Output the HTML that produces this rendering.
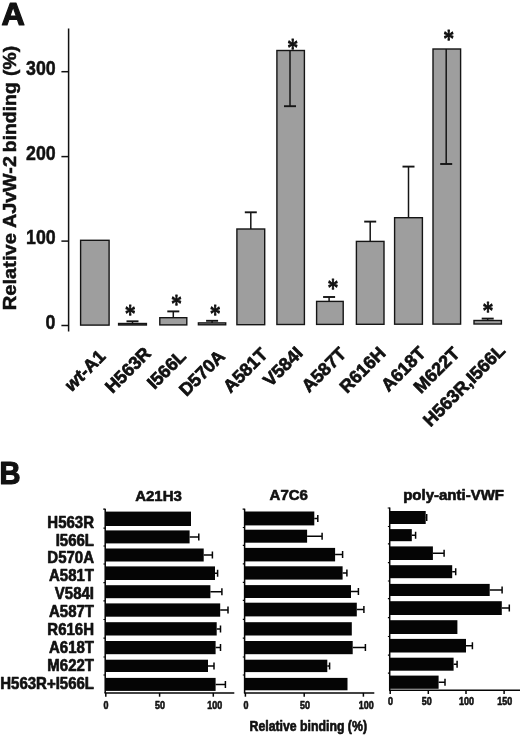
<!DOCTYPE html>
<html lang="en"><head><meta charset="utf-8"><title>Figure</title>
<style>html,body{margin:0;padding:0;background:#fff}body{width:520px;height:736px;overflow:hidden}svg{display:block}text{font-family:"Liberation Sans", Arial, Helvetica, sans-serif;font-weight:bold;fill:#111;stroke:#111;stroke-width:.5px;stroke-linejoin:round}.s{stroke-width:.65px}.t{stroke-width:.6px}.st{stroke:none}</style></head><body>
<svg width="520" height="736" viewBox="0 0 520 736">
<rect width="520" height="736" fill="#fff"/>
<text transform="translate(1.5,24.5) scale(1.06,1)" font-size="30.5" style="stroke-width:1.2px">A</text>
<g stroke="#111" stroke-width="1.5" fill="none">
<line x1="68.6" y1="28.5" x2="68.6" y2="331.5"/>
<line x1="61.4" y1="325.5" x2="68.6" y2="325.5"/>
<line x1="61.4" y1="241.1" x2="68.6" y2="241.1"/>
<line x1="61.4" y1="156.6" x2="68.6" y2="156.6"/>
<line x1="61.4" y1="71.7" x2="68.6" y2="71.7"/>
</g>
<text transform="translate(55.3,328.7) scale(.875,1)" font-size="20.3" text-anchor="end">0</text>
<text transform="translate(55.7,244.3) scale(.875,1)" font-size="20.3" text-anchor="end">100</text>
<text transform="translate(55.7,159.5) scale(.875,1)" font-size="20.3" text-anchor="end">200</text>
<text transform="translate(55.7,74.6) scale(.875,1)" font-size="20.3" text-anchor="end">300</text>
<text transform="translate(15.8,310.3) rotate(-90)" font-size="19" textLength="77.3" lengthAdjust="spacingAndGlyphs">Relative</text>
<text transform="translate(15.8,228.1) rotate(-90)" font-size="19" textLength="72.0" lengthAdjust="spacingAndGlyphs">AJvW-2</text>
<text transform="translate(15.8,152.2) rotate(-90)" font-size="19" textLength="70.0" lengthAdjust="spacingAndGlyphs">binding</text>
<text transform="translate(15.8,75.9) rotate(-90)" font-size="19" textLength="30.0" lengthAdjust="spacingAndGlyphs">(%)</text>
<rect x="80.6" y="240.3" width="28.5" height="84.8" fill="#9e9e9e" stroke="#151515" stroke-width="1.4"/>
<rect x="118.6" y="323.5" width="27.8" height="1.5" fill="#9e9e9e" stroke="#151515" stroke-width="1.4"/>
<path d="M132.5 323.5V321.3" stroke="#151515" stroke-width="1.5" fill="none"/><path d="M126.5 321.3H138.5" stroke="#151515" stroke-width="1.9" fill="none"/>
<text transform="translate(130.2,309.8) scale(.84,1.04)" x="0" y="12.9" font-size="26" text-anchor="middle" style="font-family:'Liberation Serif',serif;font-weight:normal;stroke-width:1px">*</text>
<rect x="159.8" y="317.7" width="27.0" height="7.2" fill="#9e9e9e" stroke="#151515" stroke-width="1.4"/>
<path d="M173.3 317.7V311.4" stroke="#151515" stroke-width="1.5" fill="none"/><path d="M167.3 311.4H179.3" stroke="#151515" stroke-width="1.9" fill="none"/>
<text transform="translate(176.5,299.4) scale(.84,1.04)" x="0" y="12.9" font-size="26" text-anchor="middle" style="font-family:'Liberation Serif',serif;font-weight:normal;stroke-width:1px">*</text>
<rect x="198.4" y="322.9" width="27.3" height="1.9" fill="#9e9e9e" stroke="#151515" stroke-width="1.4"/>
<path d="M212.1 322.9V320.8" stroke="#151515" stroke-width="1.5" fill="none"/><path d="M206.1 320.8H218.1" stroke="#151515" stroke-width="1.9" fill="none"/>
<text transform="translate(215.2,309.1) scale(.84,1.04)" x="0" y="12.9" font-size="26" text-anchor="middle" style="font-family:'Liberation Serif',serif;font-weight:normal;stroke-width:1px">*</text>
<rect x="236.9" y="229.0" width="27.8" height="95.7" fill="#9e9e9e" stroke="#151515" stroke-width="1.4"/>
<path d="M250.8 229.0V212.3" stroke="#151515" stroke-width="1.5" fill="none"/><path d="M244.8 212.3H256.8" stroke="#151515" stroke-width="1.9" fill="none"/>
<rect x="276.9" y="50.5" width="27.5" height="274.0" fill="#9e9e9e" stroke="#151515" stroke-width="1.4"/>
<path d="M290.0 50.5V106.2" stroke="#151515" stroke-width="1.5" fill="none"/><path d="M284.0 106.2H296.0" stroke="#151515" stroke-width="1.9" fill="none"/>
<text transform="translate(292.6,43.5) scale(.84,1.04)" x="0" y="12.9" font-size="26" text-anchor="middle" style="font-family:'Liberation Serif',serif;font-weight:normal;stroke-width:1px">*</text>
<rect x="316.6" y="301.4" width="26.6" height="23.0" fill="#9e9e9e" stroke="#151515" stroke-width="1.4"/>
<path d="M329.1 301.4V297.0" stroke="#151515" stroke-width="1.5" fill="none"/><path d="M323.1 297.0H335.1" stroke="#151515" stroke-width="1.9" fill="none"/>
<text transform="translate(333.0,283.2) scale(.84,1.04)" x="0" y="12.9" font-size="26" text-anchor="middle" style="font-family:'Liberation Serif',serif;font-weight:normal;stroke-width:1px">*</text>
<rect x="356.4" y="241.4" width="27.6" height="82.9" fill="#9e9e9e" stroke="#151515" stroke-width="1.4"/>
<path d="M370.2 241.4V221.6" stroke="#151515" stroke-width="1.5" fill="none"/><path d="M364.2 221.6H376.2" stroke="#151515" stroke-width="1.9" fill="none"/>
<rect x="394.6" y="217.7" width="27.8" height="106.5" fill="#9e9e9e" stroke="#151515" stroke-width="1.4"/>
<path d="M408.5 217.7V166.6" stroke="#151515" stroke-width="1.5" fill="none"/><path d="M402.5 166.6H414.5" stroke="#151515" stroke-width="1.9" fill="none"/>
<rect x="433.0" y="49.0" width="27.6" height="275.1" fill="#9e9e9e" stroke="#151515" stroke-width="1.4"/>
<path d="M446.2 49.0V164.0" stroke="#151515" stroke-width="1.5" fill="none"/><path d="M440.2 164.0H452.2" stroke="#151515" stroke-width="1.9" fill="none"/>
<text transform="translate(448.6,34.6) scale(.84,1.04)" x="0" y="12.9" font-size="26" text-anchor="middle" style="font-family:'Liberation Serif',serif;font-weight:normal;stroke-width:1px">*</text>
<rect x="474.0" y="320.5" width="27.4" height="3.5" fill="#9e9e9e" stroke="#151515" stroke-width="1.4"/>
<path d="M487.7 320.5V318.6" stroke="#151515" stroke-width="1.5" fill="none"/><path d="M481.7 318.6H493.7" stroke="#151515" stroke-width="1.9" fill="none"/>
<text transform="translate(488.0,306.4) scale(.84,1.04)" x="0" y="12.9" font-size="26" text-anchor="middle" style="font-family:'Liberation Serif',serif;font-weight:normal;stroke-width:1px">*</text>
<text transform="translate(106.5,357.5) rotate(-45)" font-size="18" text-anchor="end" style="stroke-width:.7px"><tspan font-style="italic">wt</tspan>-A1</text>
<text transform="translate(152.0,354.5) rotate(-45)" font-size="18" text-anchor="end" style="stroke-width:.7px">H563R</text>
<text transform="translate(187.0,357.5) rotate(-45)" font-size="18" text-anchor="end" style="stroke-width:.7px">I566L</text>
<text transform="translate(226.0,357.5) rotate(-45)" font-size="18" text-anchor="end" style="stroke-width:.7px">D570A</text>
<text transform="translate(268.7,355.5) rotate(-45)" font-size="18" text-anchor="end" style="stroke-width:.7px">A581T</text>
<text transform="translate(303.8,354.3) rotate(-45)" font-size="18" text-anchor="end" style="stroke-width:.7px">V584I</text>
<text transform="translate(347.3,355.0) rotate(-45)" font-size="18" text-anchor="end" style="stroke-width:.7px">A587T</text>
<text transform="translate(386.6,354.3) rotate(-45)" font-size="18" text-anchor="end" style="stroke-width:.7px">R616H</text>
<text transform="translate(426.7,354.2) rotate(-45)" font-size="18" text-anchor="end" style="stroke-width:.7px">A618T</text>
<text transform="translate(460.7,354.6) rotate(-45)" font-size="18" text-anchor="end" style="stroke-width:.7px">M622T</text>
<text transform="translate(506.2,351.7) rotate(-45)" font-size="18" text-anchor="end" style="stroke-width:.7px">H563R,I566L</text>
<text transform="translate(-0.4,483.9) scale(.93,1)" font-size="31.3" style="stroke-width:1.2px">B</text>
<text class="s" transform="translate(94,527.5) scale(.955,1)" font-size="15.7" text-anchor="end">H563R</text>
<text class="s" transform="translate(94,545.5) scale(.955,1)" font-size="15.7" text-anchor="end">I566L</text>
<text class="s" transform="translate(94,563.1) scale(.955,1)" font-size="15.7" text-anchor="end">D570A</text>
<text class="s" transform="translate(94,580.8) scale(.955,1)" font-size="15.7" text-anchor="end">A581T</text>
<text class="s" transform="translate(94,598.8) scale(.955,1)" font-size="15.7" text-anchor="end">V584I</text>
<text class="s" transform="translate(94,617.0) scale(.955,1)" font-size="15.7" text-anchor="end">A587T</text>
<text class="s" transform="translate(94,635.0) scale(.955,1)" font-size="15.7" text-anchor="end">R616H</text>
<text class="s" transform="translate(94,653.0) scale(.955,1)" font-size="15.7" text-anchor="end">A618T</text>
<text class="s" transform="translate(94,670.8) scale(.955,1)" font-size="15.7" text-anchor="end">M622T</text>
<text class="s" transform="translate(94,689.2) scale(.955,1)" font-size="15.7" text-anchor="end">H563R+I566L</text>
<text class="s" x="158.5" y="501.0" font-size="15" text-anchor="middle">A21H3</text>
<rect x="105.2" y="511.6" width="85.8" height="14.4" fill="#050505"/>
<rect x="105.2" y="530.4" width="84.4" height="13.0" fill="#050505"/>
<path d="M189.6 536.9H198.8M198.8 533.4V540.4" stroke="#050505" stroke-width="1.5" fill="none"/>
<rect x="105.2" y="548.5" width="98.5" height="13.0" fill="#050505"/>
<path d="M203.7 555.0H212.4M212.4 551.5V558.5" stroke="#050505" stroke-width="1.5" fill="none"/>
<rect x="105.2" y="566.4" width="109.8" height="13.6" fill="#050505"/>
<path d="M215.0 573.2H217.6M217.6 569.7V576.7" stroke="#050505" stroke-width="1.5" fill="none"/>
<rect x="105.2" y="585.2" width="105.2" height="13.0" fill="#050505"/>
<path d="M210.4 591.7H221.9M221.9 588.2V595.2" stroke="#050505" stroke-width="1.5" fill="none"/>
<rect x="105.2" y="603.4" width="115.0" height="13.3" fill="#050505"/>
<path d="M220.2 610.0H228.0M228.0 606.5V613.5" stroke="#050505" stroke-width="1.5" fill="none"/>
<rect x="105.2" y="622.2" width="111.5" height="13.3" fill="#050505"/>
<path d="M216.7 628.9H220.5M220.5 625.4V632.4" stroke="#050505" stroke-width="1.5" fill="none"/>
<rect x="105.2" y="641.0" width="110.4" height="13.2" fill="#050505"/>
<path d="M215.6 647.6H220.5M220.5 644.1V651.1" stroke="#050505" stroke-width="1.5" fill="none"/>
<rect x="105.2" y="659.7" width="102.8" height="12.3" fill="#050505"/>
<path d="M208.0 665.9H214.0M214.0 662.4V669.4" stroke="#050505" stroke-width="1.5" fill="none"/>
<rect x="105.2" y="677.9" width="110.4" height="13.0" fill="#050505"/>
<path d="M215.6 684.4H225.4M225.4 680.9V687.9" stroke="#050505" stroke-width="1.5" fill="none"/>
<g stroke="#050505" stroke-width="1.5" fill="none">
<line x1="105.2" y1="508.7" x2="105.2" y2="692.9"/>
<line x1="104.5" y1="692.9" x2="234.3" y2="692.9"/>
<line x1="105.8" y1="692.9" x2="105.8" y2="696.7"/>
<line x1="159.6" y1="692.9" x2="159.6" y2="696.7"/>
<line x1="213.3" y1="692.9" x2="213.3" y2="696.7"/>
<path d="M105.2 509.2h-2M105.2 528.2h-1.8M105.2 546.0h-1.8M105.2 564.0h-1.8M105.2 582.6h-1.8M105.2 600.8h-1.8M105.2 619.5h-1.8M105.2 638.2h-1.8M105.2 657.0h-1.8M105.2 675.0h-1.8" stroke-width="1.2"/>
</g>
<text class="t" transform="translate(106.0,709.2) scale(.86,1)" font-size="10.4" text-anchor="middle">0</text>
<text class="t" transform="translate(160.0,709.2) scale(.86,1)" font-size="10.4" text-anchor="middle">50</text>
<text class="t" transform="translate(214.7,709.2) scale(.86,1)" font-size="10.4" text-anchor="middle">100</text>
<text class="s" x="288.8" y="500.2" font-size="15" text-anchor="middle">A7C6</text>
<rect x="244.6" y="511.5" width="69.7" height="13.9" fill="#050505"/>
<path d="M314.3 518.5H317.8M317.8 515.0V522.0" stroke="#050505" stroke-width="1.5" fill="none"/>
<rect x="244.6" y="529.7" width="62.5" height="13.0" fill="#050505"/>
<path d="M307.1 536.2H322.1M322.1 532.7V539.7" stroke="#050505" stroke-width="1.5" fill="none"/>
<rect x="244.6" y="547.9" width="90.5" height="13.5" fill="#050505"/>
<path d="M335.1 554.6H342.6M342.6 551.1V558.1" stroke="#050505" stroke-width="1.5" fill="none"/>
<rect x="244.6" y="566.3" width="98.0" height="13.3" fill="#050505"/>
<path d="M342.6 573.0H346.9M346.9 569.5V576.5" stroke="#050505" stroke-width="1.5" fill="none"/>
<rect x="244.6" y="585.1" width="106.4" height="12.9" fill="#050505"/>
<path d="M351.0 591.5H358.4M358.4 588.0V595.0" stroke="#050505" stroke-width="1.5" fill="none"/>
<rect x="244.6" y="602.7" width="112.2" height="13.7" fill="#050505"/>
<path d="M356.8 609.5H363.9M363.9 606.0V613.0" stroke="#050505" stroke-width="1.5" fill="none"/>
<rect x="244.6" y="622.2" width="107.2" height="13.3" fill="#050505"/>
<rect x="244.6" y="641.0" width="108.1" height="13.2" fill="#050505"/>
<path d="M352.7 647.6H365.4M365.4 644.1V651.1" stroke="#050505" stroke-width="1.5" fill="none"/>
<rect x="244.6" y="659.7" width="82.7" height="12.4" fill="#050505"/>
<path d="M327.3 665.9H329.6M329.6 662.4V669.4" stroke="#050505" stroke-width="1.5" fill="none"/>
<rect x="244.6" y="677.9" width="102.9" height="12.4" fill="#050505"/>
<g stroke="#050505" stroke-width="1.5" fill="none">
<line x1="244.6" y1="508.7" x2="244.6" y2="692.9"/>
<line x1="243.9" y1="692.9" x2="374.3" y2="692.9"/>
<line x1="245.4" y1="692.9" x2="245.4" y2="696.7"/>
<line x1="304.2" y1="692.9" x2="304.2" y2="696.7"/>
<line x1="363.4" y1="692.9" x2="363.4" y2="696.7"/>
<path d="M244.6 509.2h-2M244.6 527.5h-1.8M244.6 545.3h-1.8M244.6 563.8h-1.8M244.6 582.4h-1.8M244.6 600.4h-1.8M244.6 619.3h-1.8M244.6 638.2h-1.8M244.6 657.0h-1.8M244.6 675.0h-1.8" stroke-width="1.2"/>
</g>
<text class="t" transform="translate(246.0,709.2) scale(.86,1)" font-size="10.4" text-anchor="middle">0</text>
<text class="t" transform="translate(305.0,709.2) scale(.86,1)" font-size="10.4" text-anchor="middle">50</text>
<text class="t" transform="translate(366.2,709.2) scale(.86,1)" font-size="10.4" text-anchor="middle">100</text>
<text class="s" x="453.6" y="500.0" font-size="15" text-anchor="middle">poly-anti-VWF</text>
<rect x="389.7" y="511.0" width="36.0" height="13.0" fill="#050505"/>
<path d="M425.7 517.5H426.7M426.7 514.0V521.0" stroke="#050505" stroke-width="1.5" fill="none"/>
<rect x="389.7" y="529.1" width="22.1" height="12.1" fill="#050505"/>
<path d="M411.8 535.2H415.6M415.6 531.7V538.7" stroke="#050505" stroke-width="1.5" fill="none"/>
<rect x="389.7" y="546.4" width="43.2" height="13.6" fill="#050505"/>
<path d="M432.9 553.2H444.1M444.1 549.7V556.7" stroke="#050505" stroke-width="1.5" fill="none"/>
<rect x="389.7" y="565.2" width="62.5" height="13.0" fill="#050505"/>
<path d="M452.2 571.7H455.7M455.7 568.2V575.2" stroke="#050505" stroke-width="1.5" fill="none"/>
<rect x="389.7" y="583.9" width="100.0" height="12.1" fill="#050505"/>
<path d="M489.7 590.0H502.1M502.1 586.5V593.5" stroke="#050505" stroke-width="1.5" fill="none"/>
<rect x="389.7" y="601.2" width="112.1" height="13.8" fill="#050505"/>
<path d="M501.8 608.1H509.3M509.3 604.6V611.6" stroke="#050505" stroke-width="1.5" fill="none"/>
<rect x="389.7" y="620.2" width="67.7" height="13.8" fill="#050505"/>
<rect x="389.7" y="638.9" width="76.3" height="13.6" fill="#050505"/>
<path d="M466.0 645.7H472.4M472.4 642.2V649.2" stroke="#050505" stroke-width="1.5" fill="none"/>
<rect x="389.7" y="657.7" width="63.9" height="13.0" fill="#050505"/>
<path d="M453.6 664.2H457.1M457.1 660.7V667.7" stroke="#050505" stroke-width="1.5" fill="none"/>
<rect x="389.7" y="675.6" width="48.9" height="13.2" fill="#050505"/>
<path d="M438.6 682.2H445.0M445.0 678.7V685.7" stroke="#050505" stroke-width="1.5" fill="none"/>
<g stroke="#050505" stroke-width="1.5" fill="none">
<line x1="389.7" y1="507.5" x2="389.7" y2="690.2"/>
<line x1="389.0" y1="690.2" x2="520.0" y2="690.2"/>
<line x1="390.2" y1="690.2" x2="390.2" y2="694.0"/>
<line x1="428.3" y1="690.2" x2="428.3" y2="694.0"/>
<line x1="466.0" y1="690.2" x2="466.0" y2="694.0"/>
<line x1="504.1" y1="690.2" x2="504.1" y2="694.0"/>
<path d="M389.7 508.0h-2M389.7 526.5h-1.8M389.7 543.8h-1.8M389.7 562.6h-1.8M389.7 581.0h-1.8M389.7 598.6h-1.8M389.7 617.6h-1.8M389.7 636.5h-1.8M389.7 655.1h-1.8M389.7 673.2h-1.8" stroke-width="1.2"/>
</g>
<text class="t" transform="translate(390.6,705.0) scale(.86,1)" font-size="10.4" text-anchor="middle">0</text>
<text class="t" transform="translate(426.8,705.0) scale(.86,1)" font-size="10.4" text-anchor="middle">50</text>
<text class="t" transform="translate(466.5,705.0) scale(.86,1)" font-size="10.4" text-anchor="middle">100</text>
<text class="t" transform="translate(504.8,705.0) scale(.86,1)" font-size="10.4" text-anchor="middle">150</text>
<text class="s" x="249.5" y="730.7" font-size="13.8" textLength="117.5" lengthAdjust="spacingAndGlyphs">Relative binding (%)</text>
</svg></body></html>
